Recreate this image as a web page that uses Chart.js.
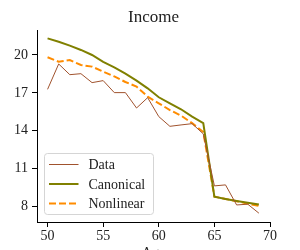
<!DOCTYPE html>
<html>
<head>
<meta charset="utf-8">
<script src="https://cdn.jsdelivr.net/npm/chart.js@4"></script>
<style>
  html, body { margin: 0; padding: 0; background: #fff; overflow: hidden; }
  #wrap { width: 300px; height: 250px; position: relative; }
</style>
</head>
<body>
<div id="wrap"><canvas id="grafico" width="300" height="250"></canvas></div>
<script>
const ages = [50, 51, 52, 53, 54, 55, 56, 57, 58, 59, 60, 61, 62, 63, 64, 65, 66, 67, 68, 69];
const dataIncome = [17.28, 19.29, 18.44, 18.52, 17.81, 17.97, 17.02, 17.02, 15.8, 16.62, 15.12, 14.35, 14.46, 14.56, 13.75, 9.63, 9.71, 8.12, 8.18, 7.47];
const canonical = [21.32, 21.05, 20.74, 20.4, 20.0, 19.45, 19.02, 18.52, 17.97, 17.36, 16.65, 16.17, 15.7, 15.12, 14.6, 8.78, 8.6, 8.44, 8.3, 8.15];
const nonlinear = [19.82, 19.47, 19.6, 19.21, 19.08, 18.68, 18.3, 17.86, 17.5, 16.7, 16.17, 15.64, 15.2, 14.6, 13.9, 8.78, 8.6, 8.42, 8.22, 8.05];
const xTicks = [50, 55, 60, 65, 70];
const yTicks = [8, 11, 14, 17, 20];

const fonte = '"Liberation Serif", "Times New Roman", serif';

function pontos(valores){
    return ages.map((a, i) => ({ x: a, y: valores[i] }));
}

const series = [
    { label: 'Data', data: pontos(dataIncome), borderColor: '#a0522d', borderWidth: 1, dash: [] },
    { label: 'Canonical', data: pontos(canonical), borderColor: '#808000', borderWidth: 2, dash: [] },
    { label: 'Nonlinear', data: pontos(nonlinear), borderColor: '#ff8c00', borderWidth: 2, dash: [7, 3] }
];

// titulo, rotulo do eixo x (cortado) e legenda desenhados no canvas
const extras = {
    id: 'extras',
    afterDraw(chart){
        const ctx = chart.ctx;
        const area = chart.chartArea;
        ctx.save();
        ctx.fillStyle = '#222';
        ctx.textAlign = 'center';
        ctx.textBaseline = 'alphabetic';
        ctx.font = '17px ' + fonte;
        ctx.fillText('Income', (area.left + area.right) / 2, 22);
        ctx.font = '14px ' + fonte;
        ctx.textBaseline = 'top';
        ctx.fillText('Age', (area.left + area.right) / 2, 246);

        // legenda
        const x0 = 44.5, y0 = 153.5, w = 109, h = 61, r = 3;
        ctx.beginPath();
        ctx.moveTo(x0 + r, y0);
        ctx.arcTo(x0 + w, y0, x0 + w, y0 + h, r);
        ctx.arcTo(x0 + w, y0 + h, x0, y0 + h, r);
        ctx.arcTo(x0, y0 + h, x0, y0, r);
        ctx.arcTo(x0, y0, x0 + w, y0, r);
        ctx.closePath();
        ctx.fillStyle = 'rgba(255,255,255,0.8)';
        ctx.fill();
        ctx.strokeStyle = '#d5d5d5';
        ctx.lineWidth = 1;
        ctx.stroke();

        ctx.textAlign = 'left';
        ctx.textBaseline = 'alphabetic';
        series.forEach((s, i) => {
            const yl = 164.5 + i * 19.5;
            ctx.beginPath();
            ctx.setLineDash(s.dash);
            ctx.strokeStyle = s.borderColor;
            ctx.lineWidth = s.borderWidth;
            ctx.moveTo(49, yl);
            ctx.lineTo(78.5, yl);
            ctx.stroke();
            ctx.setLineDash([]);
            ctx.fillStyle = '#222';
            ctx.fillText(s.label, 88.5, yl + 4.5);
        });
        ctx.restore();
    }
};

new Chart(document.getElementById('grafico'), {
    type: 'line',
    data: {
        datasets: series.map(s => ({
            label: s.label,
            data: s.data,
            borderColor: s.borderColor,
            borderWidth: s.borderWidth,
            borderDash: s.dash,
            pointRadius: 0,
            tension: 0,
            fill: false
        }))
    },
    options: {
        responsive: false,
        animation: false,
        events: [],
        layout: { padding: { top: 30, right: 30, left: 0, bottom: 0 } },
        plugins: {
            legend: { display: false },
            tooltip: { enabled: false },
            title: { display: false }
        },
        scales: {
            x: {
                type: 'linear',
                min: 49.05,
                max: 70,
                afterFit(scale){ scale.height = 28; },
                afterBuildTicks(scale){ scale.ticks = xTicks.map(v => ({ value: v })); },
                grid: { display: true, drawOnChartArea: false, drawTicks: true, tickLength: 5, color: '#000' },
                border: { display: true, color: '#000', width: 1 },
                ticks: { color: '#222', font: { family: fonte, size: 14 }, padding: 1, maxRotation: 0 }
            },
            y: {
                type: 'linear',
                min: 6.77,
                max: 21.98,
                afterFit(scale){ scale.width = 37; },
                afterBuildTicks(scale){ scale.ticks = yTicks.map(v => ({ value: v })); },
                grid: { display: true, drawOnChartArea: false, drawTicks: true, tickLength: 5, color: '#000' },
                border: { display: true, color: '#000', width: 1 },
                ticks: { color: '#222', font: { family: fonte, size: 14 }, padding: 4 }
            }
        }
    },
    plugins: [extras]
});
</script>
</body>
</html>
